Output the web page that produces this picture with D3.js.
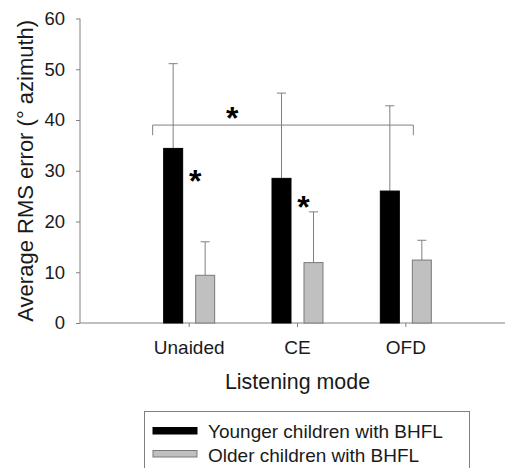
<!DOCTYPE html>
<html><head><meta charset="utf-8">
<script src="https://cdn.jsdelivr.net/npm/d3@7"></script>
<style>body{margin:0;background:#fff}svg{display:block;font-family:"Liberation Sans",Arial,sans-serif}</style>
</head><body>
<svg id="c" width="506" height="468"></svg>
<script>
const categories = ["Unaided", "CE", "OFD"];
const seriesNames = ["Younger children with BHFL", "Older children with BHFL"];
const younger = [34.4, 28.5, 26.0];
const youngerSD = [16.7, 16.8, 16.8];
const older = [9.4, 11.9, 12.4];
const olderSD = [6.6, 10.0, 3.9];
const yTicks = [0, 10, 20, 30, 40, 50, 60];
const bracketValue = 39;

const svg = d3.select("#c");
const axisColor = "#808080";
const textColor = "#1a1a1a";
const ff = "Liberation Sans, Arial, sans-serif";
const y = d3.scaleLinear().domain([0, 60]).range([323, 18.5]);
const x = d3.scaleBand().domain(categories).range([135, 460]);
const x1 = d3.scaleBand().domain([0, 1]).range([-26, 26]).paddingInner(0.375);
const cx = c => x(c) + x.bandwidth() / 2;

// axes
const yAxis = svg.append("g").attr("transform", "translate(80,0)")
  .call(d3.axisLeft(y).tickValues(yTicks).tickSize(4).tickPadding(11));
yAxis.select(".domain").attr("stroke", axisColor).attr("d", `M0,${y(60)}V${y(0)}`);
yAxis.selectAll(".tick line").attr("stroke", axisColor);
yAxis.selectAll(".tick text").attr("fill", textColor).attr("font-size", 18.5).attr("font-family", ff);

const xAxis = svg.append("g").attr("transform", `translate(0,${y(0)})`)
  .call(d3.axisBottom(x).tickSize(4).tickPadding(14));
xAxis.select(".domain").attr("stroke", axisColor).attr("d", "M80,0H505");
xAxis.selectAll(".tick line").attr("stroke", axisColor);
xAxis.selectAll(".tick text").attr("fill", textColor).attr("font-size", 19).attr("font-family", ff);

// bars
const data = categories.map((c, i) => [
  {c, s: 0, v: younger[i], sd: youngerSD[i]},
  {c, s: 1, v: older[i], sd: olderSD[i]}
]).flat();
const fills = ["#000000", "#c0c0c0"];
const strokes = ["#000000", "#7a7a7a"];

// error bars
const eb = svg.append("g");
data.forEach(d => {
  const xc = cx(d.c) + x1(d.s) + x1.bandwidth() / 2;
  eb.append("line").attr("x1", xc).attr("x2", xc).attr("y1", y(d.v)).attr("y2", y(d.v + d.sd)).attr("stroke", axisColor);
  eb.append("line").attr("x1", xc - 4.5).attr("x2", xc + 4.5).attr("y1", y(d.v + d.sd)).attr("y2", y(d.v + d.sd)).attr("stroke", axisColor);
});

svg.append("g").selectAll("rect").data(data).join("rect")
  .attr("x", d => cx(d.c) + x1(d.s) + 0.5)
  .attr("width", x1.bandwidth() - 1)
  .attr("y", d => y(d.v))
  .attr("height", d => y(0) - y(d.v))
  .attr("fill", d => fills[d.s])
  .attr("stroke", d => strokes[d.s]);

// significance bracket
const bx0 = cx("Unaided") - 36.5, bx1 = cx("OFD") + 7.5;
svg.append("path")
  .attr("d", `M${bx0},${y(bracketValue - 2)}V${y(bracketValue)}H${bx1}V${y(bracketValue - 2)}`)
  .attr("fill", "none").attr("stroke", axisColor);

const star = (xp, yp) => svg.append("text").attr("x", xp).attr("y", yp)
  .attr("text-anchor", "middle").attr("font-size", 32).attr("font-weight", "bold")
  .attr("fill", "#000").text("*");
star((cx("Unaided") + cx("CE")) / 2 - 11, y(bracketValue) + 4);
star(cx("Unaided") + 6, y(younger[0]) + 44);
star(cx("CE") + 6, y(younger[1]) + 40);

// axis titles
svg.append("text").attr("transform", `translate(33,${(y(0) + y(60)) / 2}) rotate(-90)`)
  .attr("text-anchor", "middle").attr("font-size", 22).attr("fill", textColor)
  .text("Average RMS error (° azimuth)");
svg.append("text").attr("x", cx("CE")).attr("y", 389)
  .attr("text-anchor", "middle").attr("font-size", 21.4).attr("fill", textColor)
  .text("Listening mode");

// legend
const lg = svg.append("g");
lg.append("rect").attr("x", 144.5).attr("y", 411.5).attr("width", 325).attr("height", 70)
  .attr("fill", "#fff").attr("stroke", axisColor);
seriesNames.forEach((n, i) => {
  lg.append("rect").attr("x", 153).attr("y", 427.5 + i * 23).attr("width", 44).attr("height", 6.5)
    .attr("fill", fills[i]).attr("stroke", strokes[i]);
  lg.append("text").attr("x", 208).attr("y", 438 + i * 23.5).attr("font-size", 19).attr("fill", textColor).text(n);
});
</script>
</body></html>
